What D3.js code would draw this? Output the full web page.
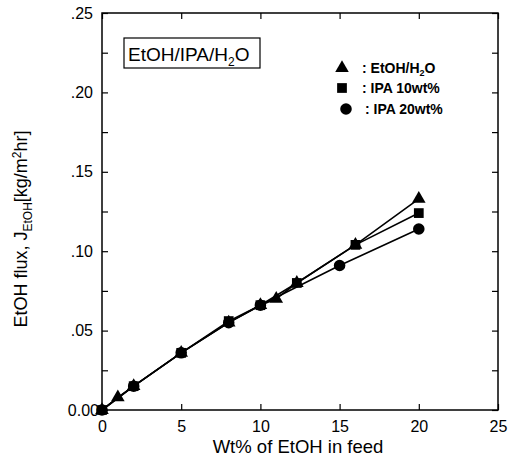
<!DOCTYPE html>
<html><head><meta charset="utf-8">
<script src="https://cdn.jsdelivr.net/npm/d3@7/dist/d3.min.js"></script>
<style>body{margin:0;background:#fff}</style>
</head><body>
<svg id="c" width="510" height="462"></svg>
<script>
const xTicks = [0, 5, 10, 15, 20, 25];
const yTicks = [0, 0.05, 0.10, 0.15, 0.20, 0.25];
const seriesNames = ["EtOH/H2O", "IPA 10wt%", "IPA 20wt%"];
const etohX = [0, 1, 2, 5, 8, 10, 11, 12.3, 16, 20];
const etohY = [0, 0.008, 0.015, 0.036, 0.055, 0.066, 0.070, 0.080, 0.104, 0.133];
const ipa10X = [0, 2, 5, 8, 10, 12.3, 16, 20];
const ipa10Y = [0, 0.015, 0.036, 0.056, 0.066, 0.080, 0.104, 0.124];
const ipa20X = [0, 2, 5, 8, 10, 15, 20];
const ipa20Y = [0, 0.015, 0.036, 0.055, 0.066, 0.091, 0.114];

const svg = d3.select("#c");
const L = 102, R = 498, T = 13, B = 410;
const x = d3.scaleLinear().domain([0, 25]).range([L, R]);
const y = d3.scaleLinear().domain([0, 0.25]).range([B, T]);
const font = "Arial, 'Liberation Sans', sans-serif";

svg.append("rect").attr("x", L).attr("y", T).attr("width", R - L).attr("height", B - T)
  .attr("fill", "none").attr("stroke", "#000").attr("stroke-width", 1.5);

const fmtY = v => v === 0 ? "0.00" : d3.format(".2f")(v).replace(/^0/, "");
const yMinor = d3.range(0, 0.2501, 0.025);

// left axis labels
const ga = svg.append("g").attr("transform", `translate(${L},0)`)
  .call(d3.axisLeft(y).tickValues(yTicks).tickFormat(fmtY).tickSize(0).tickPadding(9));
ga.select(".domain").remove();
ga.selectAll("text").attr("font-family", font).attr("font-size", 16).attr("fill", "#000")
  .attr("dx", d => d === 0 ? 6 : 0);
// inward ticks
svg.append("g").attr("transform", `translate(${L},0)`)
  .call(d3.axisRight(y).tickValues(yMinor).tickFormat("").tickSize(6))
  .call(g => g.select(".domain").remove());
svg.append("g").attr("transform", `translate(${R},0)`)
  .call(d3.axisLeft(y).tickValues(yMinor).tickFormat("").tickSize(6))
  .call(g => g.select(".domain").remove());

// bottom axis labels
const gb = svg.append("g").attr("transform", `translate(0,${B})`)
  .call(d3.axisBottom(x).tickValues(xTicks).tickFormat(d3.format("d")).tickSize(0).tickPadding(11));
gb.select(".domain").remove();
gb.selectAll("text").attr("font-family", font).attr("font-size", 16).attr("fill", "#000");
svg.append("g").attr("transform", `translate(0,${B})`)
  .call(d3.axisTop(x).tickValues(xTicks).tickFormat("").tickSize(6))
  .call(g => g.select(".domain").remove());
svg.append("g").attr("transform", `translate(0,${T})`)
  .call(d3.axisBottom(x).tickValues(xTicks).tickFormat("").tickSize(6))
  .call(g => g.select(".domain").remove());
svg.selectAll(".tick line").attr("stroke", "#000").attr("stroke-width", 1.2);

// axis titles
svg.append("text").attr("x", 298).attr("y", 453).attr("text-anchor", "middle")
  .attr("font-family", font).attr("font-size", 18.5).text("Wt% of EtOH in feed");
const yl = svg.append("text").attr("transform", "translate(27,229) rotate(-90)")
  .attr("text-anchor", "middle").attr("font-family", font).attr("font-size", 18);
yl.append("tspan").text("EtOH flux, J");
yl.append("tspan").attr("font-size", 12).attr("dy", 5).text("EtOH");
yl.append("tspan").attr("dy", -5).text("[kg/m");
yl.append("tspan").attr("font-size", 12).attr("dy", -6).text("2");
yl.append("tspan").attr("dy", 6).text("hr]");

// title box
svg.append("rect").attr("x", 124).attr("y", 38).attr("width", 136).attr("height", 30)
  .attr("fill", "none").attr("stroke", "#000").attr("stroke-width", 1.2);
const tt = svg.append("text").attr("x", 128).attr("y", 61).attr("font-family", font).attr("font-size", 19);
tt.append("tspan").text("EtOH/IPA/H");
tt.append("tspan").attr("font-size", 12).attr("dy", 5).text("2");
tt.append("tspan").attr("dy", -5).text("O");

// series
const series = [
  {name: seriesNames[0], xs: etohX, ys: etohY, sym: d3.symbolTriangle, size: 80},
  {name: seriesNames[1], xs: ipa10X, ys: ipa10Y, sym: d3.symbolSquare, size: 95},
  {name: seriesNames[2], xs: ipa20X, ys: ipa20Y, sym: d3.symbolCircle, size: 105}
];
const line = d3.line().x(d => x(d[0])).y(d => y(d[1]));
series.forEach(s => {
  const pts = s.xs.map((v, i) => [v, s.ys[i]]);
  svg.append("path").attr("d", line(pts)).attr("fill", "none").attr("stroke", "#000").attr("stroke-width", 1.6);
});
series.forEach(s => {
  const pts = s.xs.map((v, i) => [v, s.ys[i]]);
  svg.append("g").selectAll("path").data(pts).join("path")
    .attr("transform", d => `translate(${x(d[0])},${y(d[1])})`)
    .attr("d", d3.symbol().type(s.sym).size(s.size)).attr("fill", "#000");
});

// legend
const lg = [[342, 68], [342, 88], [346, 109]];
series.forEach((s, i) => {
  svg.append("path").attr("transform", `translate(${lg[i][0]},${lg[i][1]})`)
    .attr("d", d3.symbol().type(s.sym).size(s.size)).attr("fill", "#000");
});
const lt = svg.append("text").attr("x", 362).attr("y", 73).attr("font-family", font).attr("font-size", 14).attr("font-weight", "bold");
lt.append("tspan").text(": EtOH/H");
lt.append("tspan").attr("font-size", 9).attr("dy", 3).text("2");
lt.append("tspan").attr("dy", -3).text("O");
svg.append("text").attr("x", 362).attr("y", 93).attr("font-family", font).attr("font-size", 14).attr("font-weight", "bold").text(": IPA 10wt%");
svg.append("text").attr("x", 365).attr("y", 114).attr("font-family", font).attr("font-size", 14).attr("font-weight", "bold").text(": IPA 20wt%");
</script>
</body></html>
